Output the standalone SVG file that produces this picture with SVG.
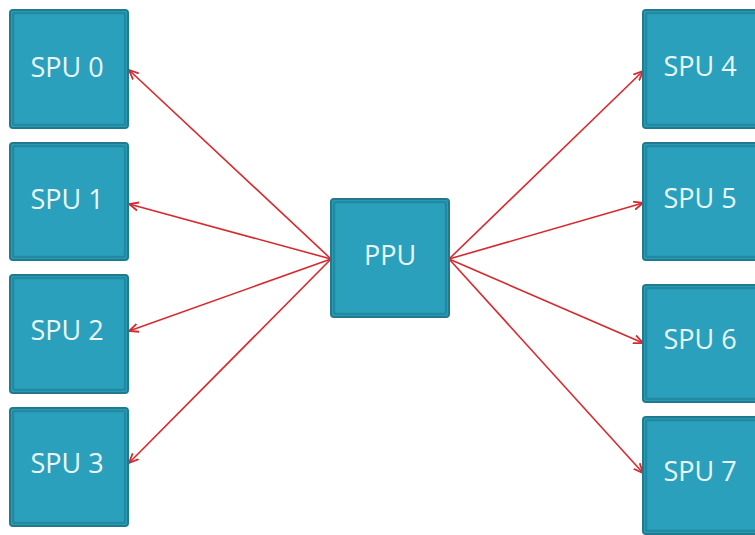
<svg xmlns="http://www.w3.org/2000/svg" width="755" height="535" viewBox="0 0 755 535">
  <style>
    .box { fill: #2aa0bc; stroke: #1f7a8e; stroke-width: 2; }
    .bevel { fill: none; stroke: #2389a1; stroke-width: 2.5; }
    .label { font-family: "Open Sans", "DejaVu Sans", sans-serif; font-size: 27px; fill: #eaf8fb; text-anchor: middle; }
    .link { stroke: #d9282c; stroke-width: 1.6; fill: none; marker-end: url(#arrow); }
  </style>
  <defs>
    <marker id="arrow" viewBox="0 0 10 10" refX="9.5" refY="5" markerWidth="10" markerHeight="10" markerUnits="userSpaceOnUse" orient="auto">
      <path d="M0,0.8 L9.5,5 L0,9.2" fill="none" stroke="#d9282c" stroke-width="1.8"/>
    </marker>
  </defs>

  <g id="connectors">
    <line class="link" x1="331" y1="259" x2="129" y2="70"/>
    <line class="link" x1="331" y1="259" x2="129" y2="204"/>
    <line class="link" x1="331" y1="259" x2="129" y2="331"/>
    <line class="link" x1="331" y1="259" x2="129" y2="463"/>
    <line class="link" x1="449" y1="259" x2="643" y2="71"/>
    <line class="link" x1="449" y1="259" x2="643" y2="203"/>
    <line class="link" x1="449" y1="259" x2="643" y2="343"/>
    <line class="link" x1="449" y1="259" x2="643" y2="473"/>
  </g>

  <g id="spu0">
    <rect class="box" x="10" y="10" width="118" height="118" rx="3"/>
    <rect class="bevel" x="13" y="13" width="112" height="112" rx="2"/>
    <text class="label" x="67" y="77">SPU 0</text>
  </g>
  <g id="spu1">
    <rect class="box" x="10" y="143" width="118" height="117" rx="3"/>
    <rect class="bevel" x="13" y="146" width="112" height="111" rx="2"/>
    <text class="label" x="67" y="209">SPU 1</text>
  </g>
  <g id="spu2">
    <rect class="box" x="10" y="275" width="118" height="118" rx="3"/>
    <rect class="bevel" x="13" y="278" width="112" height="112" rx="2"/>
    <text class="label" x="67" y="340">SPU 2</text>
  </g>
  <g id="spu3">
    <rect class="box" x="10" y="408" width="118" height="118" rx="3"/>
    <rect class="bevel" x="13" y="411" width="112" height="112" rx="2"/>
    <text class="label" x="67" y="473">SPU 3</text>
  </g>

  <g id="ppu">
    <rect class="box" x="331" y="199" width="118" height="118" rx="3"/>
    <rect class="bevel" x="334" y="202" width="112" height="112" rx="2"/>
    <text class="label" x="390" y="265">PPU</text>
  </g>

  <g id="spu4">
    <rect class="box" x="643" y="10" width="118" height="118" rx="3"/>
    <rect class="bevel" x="646" y="13" width="112" height="112" rx="2"/>
    <text class="label" x="700" y="76">SPU 4</text>
  </g>
  <g id="spu5">
    <rect class="box" x="643" y="143" width="118" height="117" rx="3"/>
    <rect class="bevel" x="646" y="146" width="112" height="111" rx="2"/>
    <text class="label" x="700" y="208">SPU 5</text>
  </g>
  <g id="spu6">
    <rect class="box" x="643" y="285" width="118" height="117" rx="3"/>
    <rect class="bevel" x="646" y="288" width="112" height="111" rx="2"/>
    <text class="label" x="700" y="349">SPU 6</text>
  </g>
  <g id="spu7">
    <rect class="box" x="643" y="417" width="118" height="117" rx="3"/>
    <rect class="bevel" x="646" y="420" width="112" height="111" rx="2"/>
    <text class="label" x="700" y="481">SPU 7</text>
  </g>
</svg>
